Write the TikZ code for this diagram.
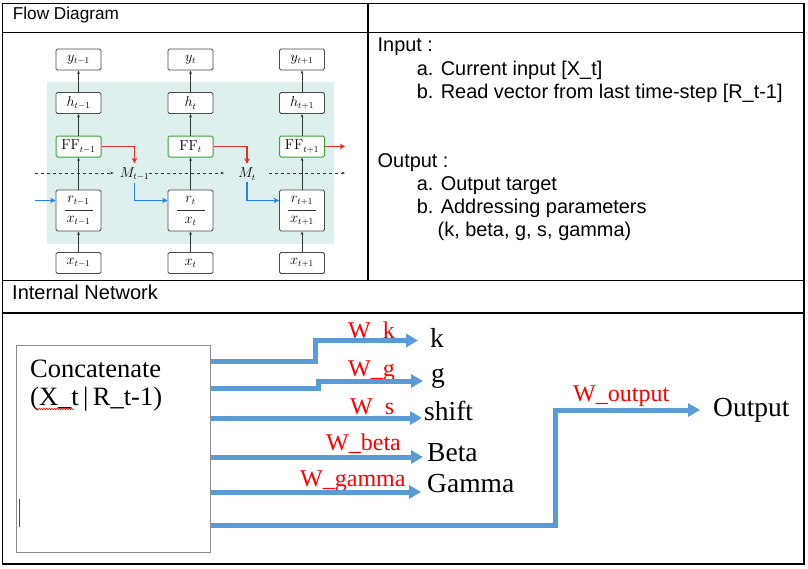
\documentclass[tikz,border=0pt]{standalone}
\usepackage[no-math]{fontspec}
\setmainfont{Liberation Serif}
\newfontfamily\arialf{Liberation Sans}
\usetikzlibrary{arrows.meta,decorations.pathmorphing}
\definecolor{wordblue}{RGB}{91,155,213}
\definecolor{tealbg}{RGB}{222,240,237}
\definecolor{ffgreen}{RGB}{60,160,60}
\definecolor{redc}{RGB}{225,45,45}
\definecolor{bluec}{RGB}{40,130,220}
\begin{document}
\begin{tikzpicture}[x=1pt,y=-1pt,
  tbl/.style={line width=1.3pt, line cap=rect},
  fbox/.style={draw=black!70, rounded corners=1.5pt, minimum width=45pt, minimum height=21pt, inner sep=0pt, fill=white, line width=0.8pt, font=\fontsize{13.5}{15}\selectfont},
  ffbox/.style={fbox, draw=ffgreen, line width=1pt},
  mtxt/.style={inner sep=0pt, font=\fontsize{13.5}{15}\selectfont},
  thinarr/.style={-{Stealth[length=3.5pt,width=2.8pt]}, line width=0.8pt, draw=black!80},
  dasharr/.style={thinarr, dashed},
  redarr/.style={-{Stealth[length=5.5pt,width=5.5pt]}, line width=1.7pt, draw=redc},
  bluearr/.style={-{Stealth[length=5.5pt,width=5.5pt]}, line width=1.7pt, draw=bluec},
  bigarr/.style={-{Triangle[length=12pt,width=13pt]}, line width=5pt, draw=wordblue, line join=miter},
  wlab/.style={anchor=base west, inner sep=0pt, text=red, font=\fontsize{24}{26}\selectfont},
  olab/.style={anchor=base west, inner sep=0pt, font=\fontsize{27.5}{30}\selectfont},
  ctxt/.style={anchor=base west, inner sep=0pt, font=\fontsize{26.5}{29}\selectfont},
  atxt/.style={anchor=base west, inner sep=0pt, font=\arialf\fontsize{19.9}{22}\selectfont},
  htxt/.style={anchor=base west, inner sep=0pt, font=\arialf\fontsize{17.2}{19}\selectfont}
]
\useasboundingbox (0,0) rectangle (808,568);
\fill[white] (0,0) rectangle (808,568);

% ---------- table ----------
\draw[tbl] (2.5,3.3) rectangle (804,564);
\draw[tbl] (2.5,32.3) -- (804,32.3);
\draw[tbl] (368,3.3) -- (368,280.7);
\draw[tbl] (2.5,280.7) -- (804,280.7);
\draw[tbl] (2.5,313) -- (804,313);

\node[htxt] (hdr1) at (12.7,19.5) {Flow Diagram};
\node[atxt, font=\arialf\fontsize{20}{22}\selectfont] (hdr2) at (12,299.5) {Internal Network};

% ---------- right cell text ----------
\node[atxt] (in) at (377.5,51) {Input :};
\node[atxt] (ina) at (416.7,75) {a. Current input [X\_t]};
\node[atxt] (inb) at (416.7,98.3) {b. Read vector from last time-step [R\_t-1]};
\node[atxt] (out) at (377.5,167.3) {Output :};
\node[atxt] (outa) at (416.7,190) {a. Output target};
\node[atxt] (outb) at (416.7,213.3) {b. Addressing parameters};
\node[atxt] (outc) at (437.5,236.7) {(k, beta, g, s, gamma)};

% ---------- flow diagram ----------
\fill[tealbg] (47,82) rectangle (334,244);

% column 1
\node[fbox] (y1) at (78.5,59.5) {$y_{t-1}$};
\node[fbox] (h1) at (78.5,103) {$h_{t-1}$};
\node[ffbox] (f1) at (78.5,146.5) {$\mathrm{FF}_{t-1}$};
\node[fbox, minimum height=41pt] (r1) at (78.5,210.5) {};
\node[mtxt] (r1t) at (78.5,200.5) {$r_{t-1}$};
\node[mtxt] (r1x) at (78.5,221) {$x_{t-1}$};
\node[fbox] (x1) at (78.5,263) {$x_{t-1}$};
% column 2
\node[fbox] (y2) at (190.5,59.5) {$y_{t}$};
\node[fbox] (h2) at (190.5,103) {$h_{t}$};
\node[ffbox] (f2) at (190.5,146.5) {$\mathrm{FF}_{t}$};
\node[fbox, minimum height=41pt] (r2) at (190.5,210.5) {};
\node[mtxt] (r2t) at (190.5,200.5) {$r_{t}$};
\node[mtxt] (r2x) at (190.5,221) {$x_{t}$};
\node[fbox] (x2) at (190.5,263) {$x_{t}$};
% column 3
\node[fbox] (y3) at (302,59.5) {$y_{t+1}$};
\node[fbox] (h3) at (302,103) {$h_{t+1}$};
\node[ffbox] (f3) at (302,146.5) {$\mathrm{FF}_{t+1}$};
\node[fbox, minimum height=41pt] (r3) at (302,210.5) {};
\node[mtxt] (r3t) at (302,200.5) {$r_{t+1}$};
\node[mtxt] (r3x) at (302,221) {$x_{t+1}$};
\node[fbox] (x3) at (302,263) {$x_{t+1}$};

\foreach \c in {1,2,3}{
  \draw[line width=0.7pt, black!80] ([xshift=-14pt]r\c.center) -- ([xshift=14pt]r\c.center);
  \draw[thinarr] (x\c.north) -- (r\c.south);
  \draw[thinarr] (r\c.north) -- (f\c.south);
  \draw[thinarr] (f\c.north) -- (h\c.south);
  \draw[thinarr] (h\c.north) -- (y\c.south);
}

% memory
\node[mtxt] (m1) at (134.5,174) {$M_{t-1}$};
\node[mtxt] (m2) at (247,174) {$M_{t}$};
\coordinate (dl) at (35,173);
\coordinate (dr) at (345,173);
\draw[dasharr] (dl) -- ([xshift=-6pt]m1.west |- dl);
\draw[dasharr] ([xshift=0pt]m1.east |- dl) -- ([xshift=-14pt]m2.west |- dl);
\draw[dasharr] ([xshift=13pt]m2.east |- dl) -- (dr);

% red arrows
\coordinate (redend) at (345,146.5);
\draw[redarr] (f1.east) -| ([yshift=4pt]m1.north);
\draw[redarr] (f2.east) -| ([yshift=4pt]m2.north);
\draw[redarr] (f3.east) -- (redend);

% blue arrows
\coordinate (bl) at (35,200.5);
\draw[bluearr] (bl) -- ([yshift=10pt]r1.west);
\draw[bluearr] ([yshift=-2pt]m1.south) |- ([yshift=10pt]r2.west);
\draw[bluearr] ([yshift=-2pt]m2.south) |- ([yshift=10pt]r3.west);

% ---------- internal network ----------
\node[draw=black!45, line width=1.1pt, anchor=north west, minimum width=194pt, minimum height=207pt, inner sep=0pt] (cat) at (16,345) {};
\node[ctxt] (cat1) at (30,377) {Concatenate};
\node[ctxt] (cat2) at (30,405) {(X\_t\,|\,R\_t-1)};
\draw[red, line width=0.5pt, decorate, decoration={snake, amplitude=0.8pt, segment length=2.5pt}] (36,409) -- (74,409);
\draw[black!70, line width=1pt] (19.5,499) -- (19.5,527);

% labels
\node[olab] (k) at (430,347) {k};
\node[olab] (g) at (431,382) {g};
\node[olab] (shift) at (424,420.7) {shift};
\node[olab] (beta) at (427,461.7) {Beta};
\node[olab] (gamma) at (427,492.7) {Gamma};
\node[olab] (outp) at (713,416.7) {Output};

\node[wlab] (wk) at (348,338) {W\_k};
\node[wlab] (wg) at (348,376.7) {W\_g};
\node[wlab] (ws) at (350,414) {W\_s};
\node[wlab] (wb) at (326,450) {W\_beta};
\node[wlab] (wgm) at (300,486.7) {W\_gamma};
\node[wlab] (wo) at (573,401.7) {W\_output};

% arrows
\coordinate (kt) at (418,340.5);
\coordinate (gt) at (423,381);
\coordinate (st) at (422,418);
\coordinate (bt) at (423,457);
\coordinate (gmt) at (421,492);
\coordinate (ot) at (700,410);
\draw[bigarr] (cat.east |- 0,361.5) -- (315,361.5) -- (315,340.5) -- (kt);
\draw[bigarr] (cat.east |- 0,388) -- (318,388) -- (318,381) -- (gt);
\draw[bigarr] (cat.east |- st) -- (st);
\draw[bigarr] (cat.east |- bt) -- (bt);
\draw[bigarr] (cat.east |- gmt) -- (gmt);
\draw[bigarr] (cat.east |- 0,525) -- (555,525) -- (555,410) -- (ot);
\end{tikzpicture}
\end{document}
